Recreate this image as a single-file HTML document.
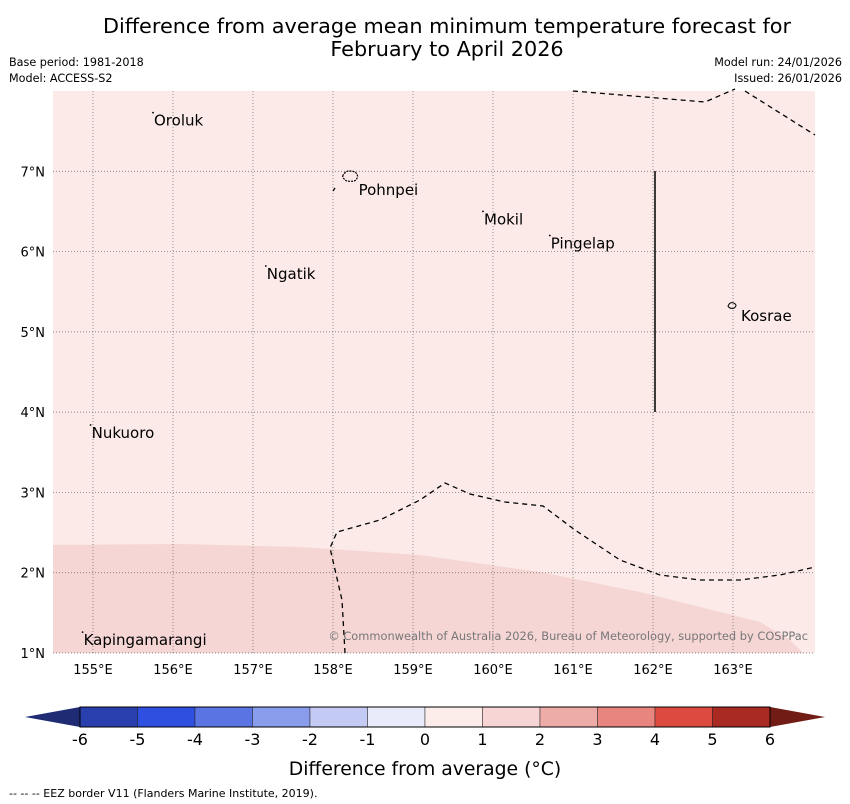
<!DOCTYPE html>
<html><head><meta charset="utf-8"><style>
body{margin:0;background:#fff;font-family:"Liberation Sans","DejaVu Sans",sans-serif;}
svg{display:block}
text{font-family:"DejaVu Sans","Liberation Sans",sans-serif;}
</style></head><body>
<svg id="chart" width="850" height="804" viewBox="0 0 850 804">
<text x="447" y="33" font-size="20.8" text-anchor="middle">Difference from average mean minimum temperature forecast for</text>
<text x="447" y="56" font-size="20.8" text-anchor="middle">February to April 2026</text>
<text x="9" y="66" font-size="11.2">Base period: 1981-2018</text>
<text x="9" y="82" font-size="11.2">Model: ACCESS-S2</text>
<text x="842" y="66" font-size="11.2" text-anchor="end">Model run: 24/01/2026</text>
<text x="842" y="82" font-size="11.2" text-anchor="end">Issued: 26/01/2026</text>
<g id="map"></g>
<g id="cbar"></g>
<text x="425" y="775" font-size="18.8" text-anchor="middle">Difference from average (°C)</text>
<text x="9" y="797" font-size="11">--  --  -- EEZ border V11 (Flanders Marine Institute, 2019).</text>
</svg>
<script>
const lonTicks=[155,156,157,158,159,160,161,162,163];
const latTicks=[1,2,3,4,5,6,7];
const placeNames=["Oroluk","Pohnpei","Mokil","Pingelap","Ngatik","Kosrae","Nukuoro","Kapingamarangi"];
const placeLon=[155.75,158.22,159.875,160.71,157.16,163.0,154.97,154.87];
const placeLat=[7.73,6.89,6.5,6.2,5.82,5.32,3.84,1.26];
const binEdges=[-6,-5,-4,-3,-2,-1,0,1,2,3,4,5,6];
const binColors=["#2a3fae","#2f4fe0","#5a74e4","#8a9cec","#c3caf3","#e9ebfa","#fcecea","#f6d5d4","#eeaca8","#e8857f","#dc4a40","#a92a22"];
const cbarTicks=[-6,-5,-4,-3,-2,-1,0,1,2,3,4,5,6];

const NS="http://www.w3.org/2000/svg";
const X0=53,X1=815,Y0=91,Y1=653;
const lonMin=154.5,lonMax=164.025,latMin=1,latMax=8;
function xS(lon){return X0+(lon-lonMin)/(lonMax-lonMin)*(X1-X0);}
function yS(lat){return Y1-(lat-latMin)/(latMax-latMin)*(Y1-Y0);}
function mk(tag,attrs,parent){const e=document.createElementNS(NS,tag);for(const k in attrs)e.setAttribute(k,attrs[k]);parent.appendChild(e);return e;}
const map=document.getElementById('map');
let r=mk('rect',{x:X0,y:Y0,width:X1-X0,height:Y1-Y0,fill:'#fbeae8'},map);


let p=mk('path',{d:'M53,545 L180,544 L300,547 L420,555 L540,572 L640,592 L760,622 L790,640 L803,653 L53,653 Z',fill:'#f5d6d5'},map);


lonTicks.forEach(l=>{
 const x=xS(l);
 const g=mk('line',{x1:x,x2:x,y1:Y0,y2:Y1,stroke:'#666','stroke-width':0.7,'stroke-dasharray':'1,2'},map);
 
 
 const t=mk('text',{x:x,y:674,'font-size':13,'text-anchor':'middle'},map);t.textContent=l+'°E';
 
 
});
latTicks.forEach(l=>{
 const y=yS(l);
 const g=mk('line',{x1:X0,x2:X1,y1:y,y2:y,stroke:'#666','stroke-width':0.7,'stroke-dasharray':'1,2'},map);
 
 
 const t=mk('text',{x:45,y:y+5,'font-size':13,'text-anchor':'end'},map);t.textContent=l+'°N';
 
 
});
const eez=['M573,91 L705,102 L735,89','M745,91 L815,135','M345,653 L342,600 L330,548 L337,532 L380,520 L420,500 L445,483 L470,494 L505,502 L543,506 L575,530 L620,560 L660,575 L700,580 L740,580 L780,575 L815,567','M333,191 L335,188'];
eez.forEach(d=>{const e=mk('path',{d:d,fill:'none',stroke:'#000','stroke-width':1.3,'stroke-dasharray':'5,4'},map);
 
 });
let v=mk('line',{x1:655,x2:655,y1:171,y2:412,stroke:'#000','stroke-width':1.5},map);


placeNames.forEach((n,i)=>{
 const x=xS(placeLon[i]),y=yS(placeLat[i]);
 let mkr;
 if(n==='Pohnpei'){mkr=mk('path',{d:`M${x-8},${y-4} q3,-6 8,-5 q6,0 7,5 q-1,6 -7,5 q-6,1 -8,-5z`,fill:'none',stroke:'#000','stroke-width':1.2,'stroke-dasharray':'2,1'},map);}
 else if(n==='Kosrae'){mkr=mk('path',{d:`M${x-5},${y} q2,-5 6,-3 q4,2 0,5 q-4,1 -6,-2z`,fill:'none',stroke:'#000','stroke-width':1},map);}
 else {mkr=mk('circle',{cx:x,cy:y,r:0.9,fill:'#000'},map);}
 
 
 const dx=(n==='Pohnpei'||n==='Kosrae')?8:1, dy=(n==='Pohnpei'||n==='Kosrae')?15:13;
 const t=mk('text',{x:x+dx,y:y+dy,'font-size':15},map);t.textContent=n;
 
 
});
let c=mk('text',{x:808,y:640,'font-size':11.4,'text-anchor':'end',fill:'#777'},map);
c.textContent='© Commonwealth of Australia 2026, Bureau of Meteorology, supported by COSPPac';


// colorbar
const cb=document.getElementById('cbar');
const CX0=80,CX1=770,CY0=707,CY1=727;
function cx(v){return CX0+(v-binEdges[0])/(binEdges[binEdges.length-1]-binEdges[0])*(CX1-CX0);}
let lt=mk('path',{d:`M${CX0},${CY0} L25,717 L${CX0},${CY1} Z`,fill:'#1f2c74'},cb);


let rt=mk('path',{d:`M${CX1},${CY0} L825,717 L${CX1},${CY1} Z`,fill:'#711c15'},cb);


binColors.forEach((col,i)=>{
 const a=cx(binEdges[i]),b=cx(binEdges[i+1]);
 const s=mk('rect',{x:a,y:CY0,width:b-a,height:CY1-CY0,fill:col,stroke:'#222','stroke-width':0.5},cb);
 
 
});
mk('rect',{x:CX0,y:CY0,width:CX1-CX0,height:CY1-CY0,fill:'none',stroke:'#000','stroke-width':1},cb);
cbarTicks.forEach(tv=>{
 const t=mk('text',{x:cx(tv),y:745,'font-size':16,'text-anchor':'middle'},cb);t.textContent=tv;
 
 
});
</script>
</body></html>
